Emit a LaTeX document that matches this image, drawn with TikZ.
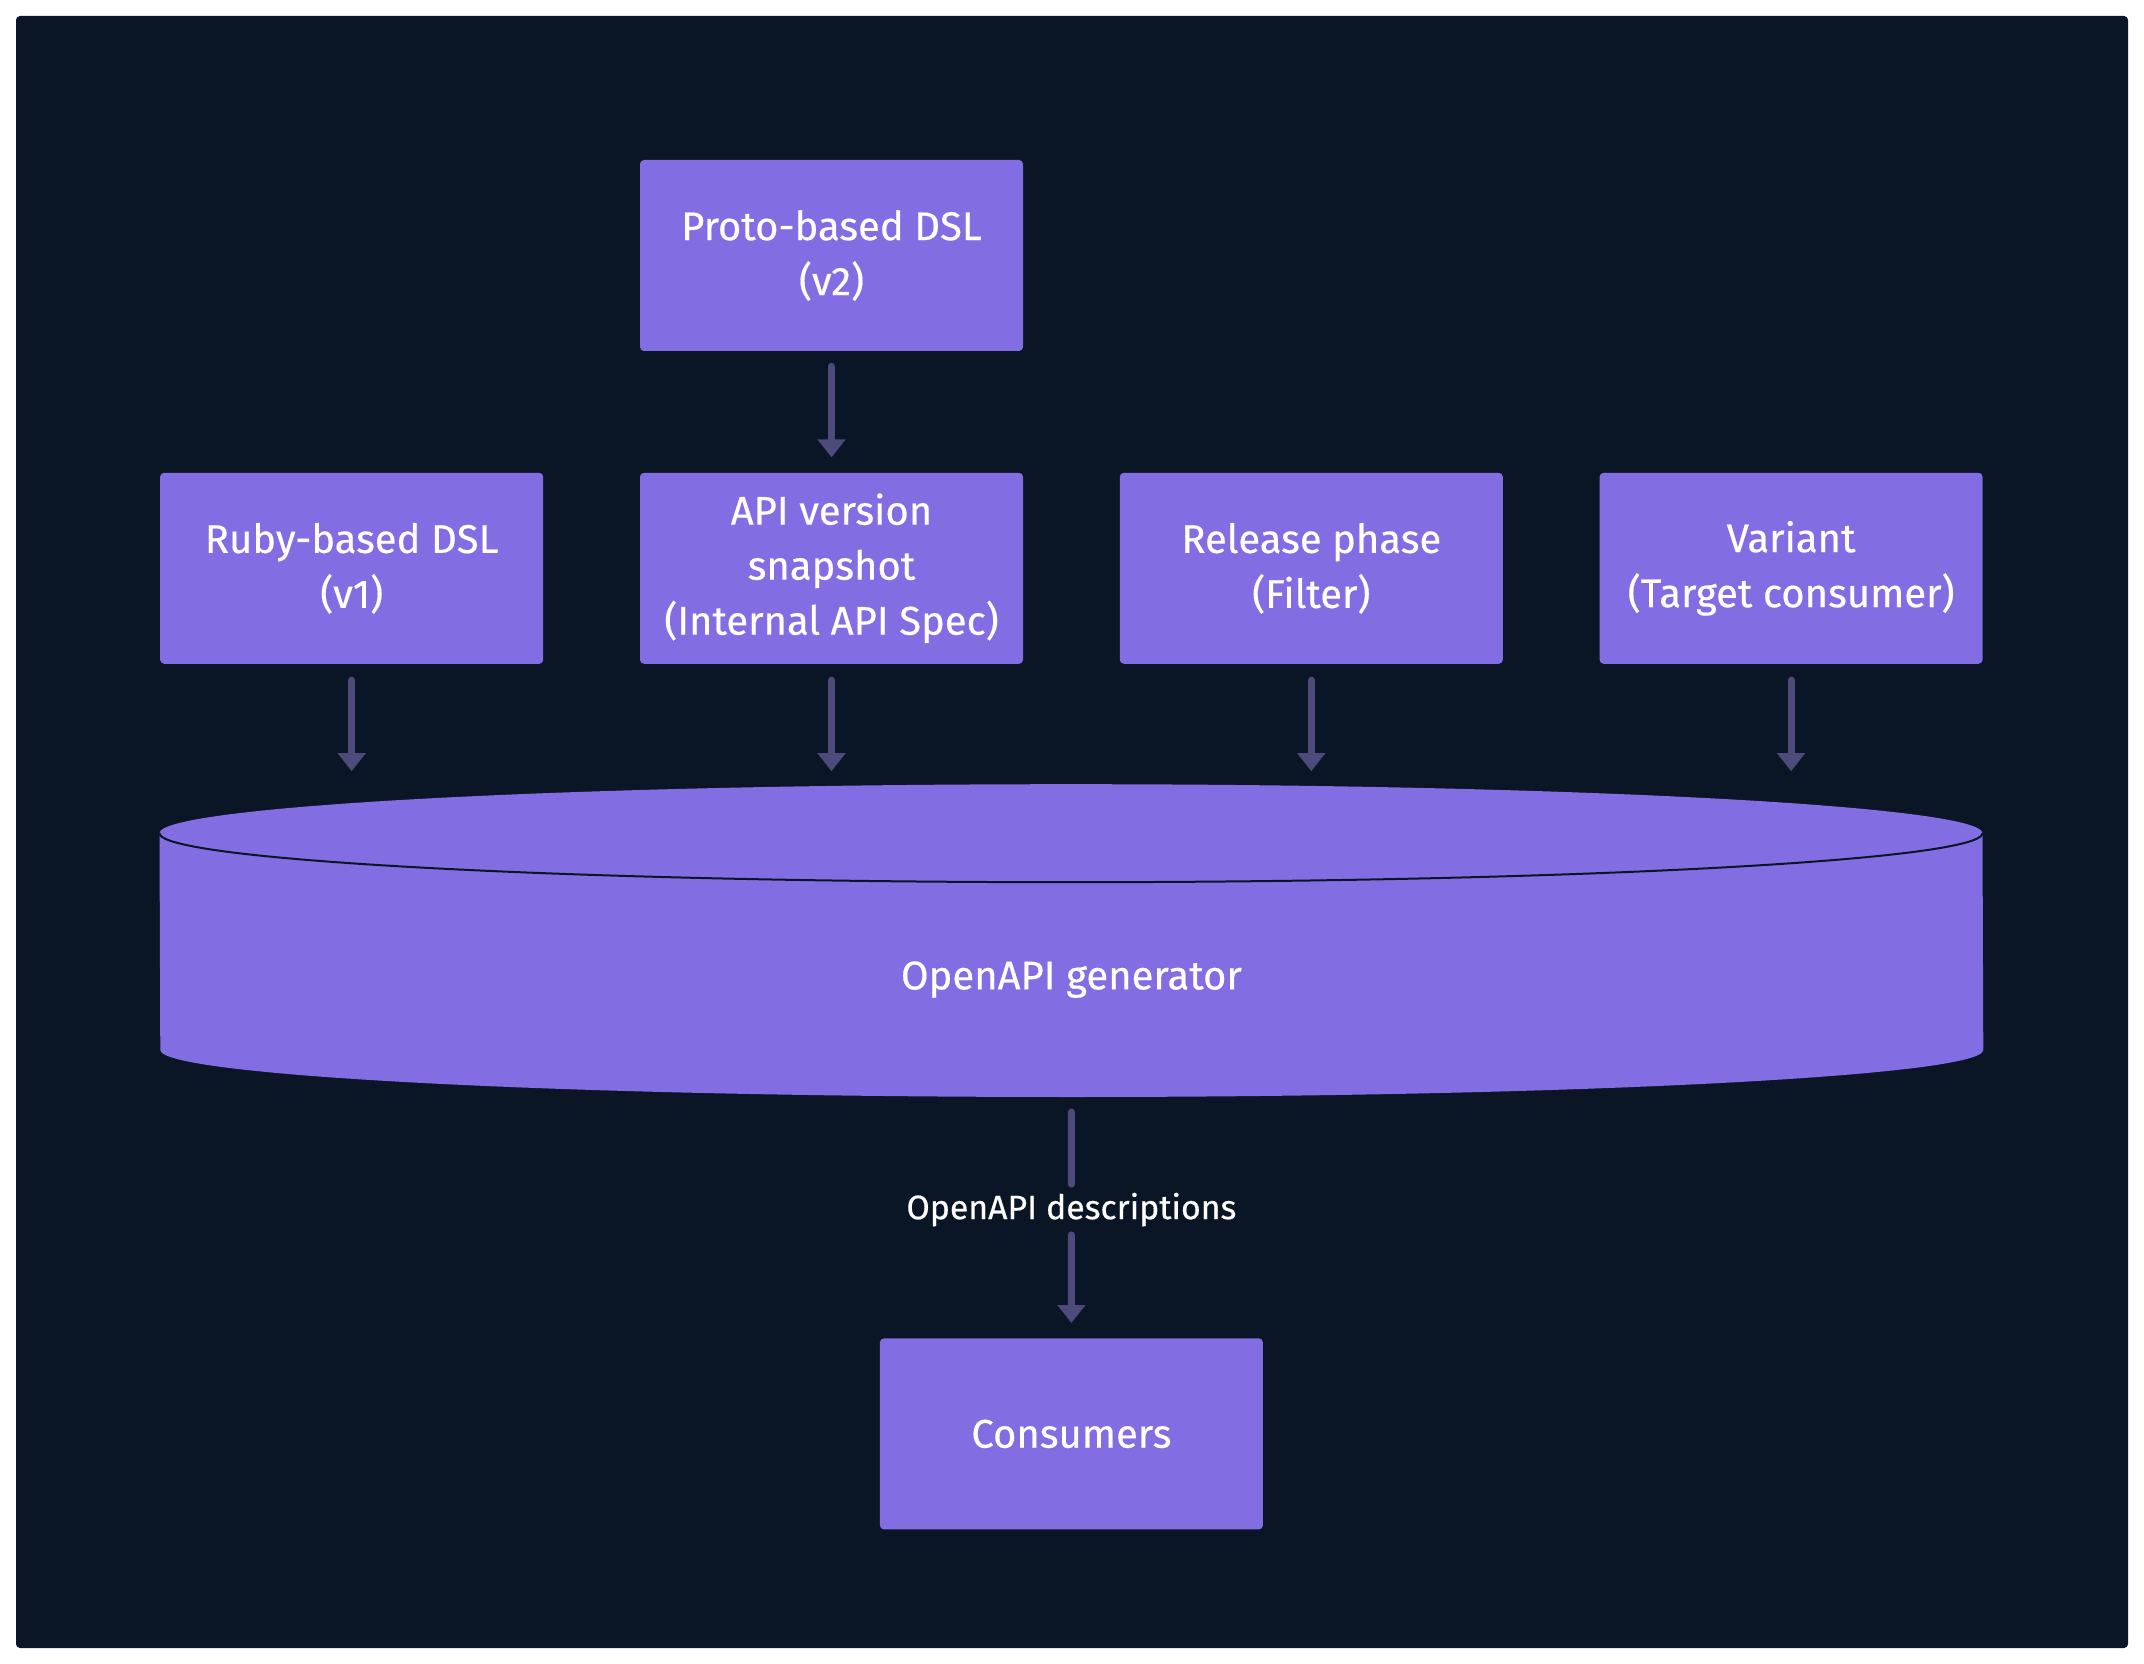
\documentclass[tikz,border=0pt]{standalone}
\usepackage{fontspec}
\setmainfont{Fira Sans}
\newfontfamily\mediumfont{Fira Sans}[FakeBold=0.45]
\usetikzlibrary{arrows.meta, positioning, calc}

\definecolor{panelbg}{HTML}{0A1626}
\definecolor{boxfill}{HTML}{836DE2}
\definecolor{arrowcol}{HTML}{4E4A7C}

\begin{document}
\begin{tikzpicture}[
    x=1pt, y=1pt,
    node distance=60pt and 48pt,
    stepbox/.style={rectangle, rounded corners=2pt, fill=boxfill, text=white, minimum width=191.5pt, minimum height=95.5pt, inner sep=0pt, align=center, font=\mediumfont\fontsize{20}{27.5}\selectfont},
    genbox/.style={rectangle, minimum width=911.5pt, minimum height=156pt, inner sep=0pt},
    genlabel/.style={text=white, font=\mediumfont\fontsize{20}{23}\selectfont},
    desclabel/.style={text=white, minimum height=25pt, inner sep=0pt, font=\mediumfont\fontsize{16.9}{20}\selectfont},
    arrow/.style={-{Triangle[width=13.5pt, length=9pt]}, draw=arrowcol, line width=3.5pt, line cap=round, shorten <=7.5pt, shorten >=7.5pt}
]

\useasboundingbox (0,0) rectangle (1072,-832);
\fill[panelbg, rounded corners=2pt] (8,-8) rectangle (1064,-824);

\node[stepbox] (proto) at (415.75,-127.75) {Proto-based DSL\\(v2)};
\node[stepbox, below=60.5pt of proto] (snapshot) {API version\\snapshot\\(Internal API Spec)};
\node[stepbox, left=of snapshot] (ruby) {Ruby-based DSL\\(v1)};
\node[stepbox, right=of snapshot] (phase) {Release phase\\(Filter)};
\node[stepbox, right=of phase] (variant) {Variant\\(Target consumer)};

% generator drum below the row
\coordinate (rowmid) at ($(ruby.south west)!0.5!(variant.south east)$);
\node[genbox, below=60pt of rowmid] (gen) {};
\fill[boxfill] ([yshift=-24.5pt]gen.north west) arc[start angle=180, end angle=0, x radius=455.75pt, y radius=24.5pt]
    -- ([yshift=23.5pt]gen.south east) arc[start angle=0, end angle=-180, x radius=455.75pt, y radius=23.5pt] -- cycle;
\draw[panelbg, line width=1pt] ([yshift=-24.5pt]gen.north west) arc[start angle=180, end angle=360, x radius=455.75pt, y radius=24.5pt];
\node[genlabel] (genname) at ([yshift=-19.5pt]gen.center) {OpenAPI generator};

\node[stepbox, below=120.5pt of gen] (consumers) {Consumers};
\node[desclabel] (desc) at ($(gen.south)!0.467!(consumers.north)$) {OpenAPI descriptions};

\draw[arrow] (proto) -- (snapshot);
\foreach \src in {ruby, snapshot, phase, variant}
    \draw[arrow, shorten <=8pt, shorten >=6.5pt] (\src.south) -- (\src.south |- gen.north);
\draw[arrow, -, shorten >=0pt] (gen.south) -- (desc.north);
\draw[arrow, shorten <=0pt] (desc.south) -- (consumers);

\end{tikzpicture}
\end{document}
